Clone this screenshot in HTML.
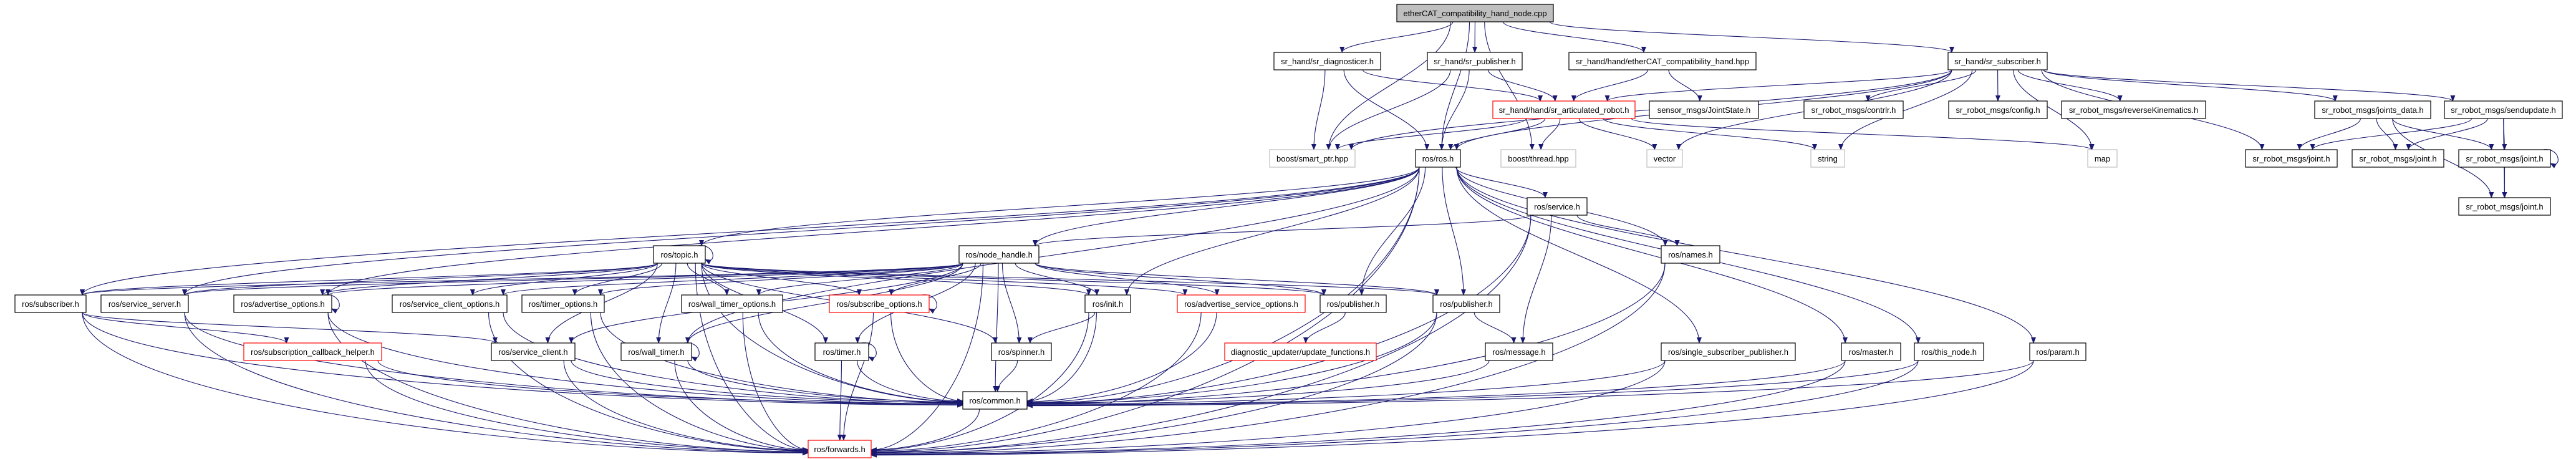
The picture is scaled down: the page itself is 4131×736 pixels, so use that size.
<!DOCTYPE html>
<html><head><meta charset="utf-8">
<style>
html,body{margin:0;padding:0;background:#fff;}
svg{display:block;}
text{font-family:"Liberation Sans",sans-serif;font-size:13px;fill:#000;}
</style></head>
<body>
<svg id="g" width="4131" height="736" viewBox="0 0 4131 736" xmlns="http://www.w3.org/2000/svg">
<defs>
<marker id="ar" viewBox="0 0 10 10" refX="9" refY="5" markerWidth="10" markerHeight="10" markerUnits="userSpaceOnUse" orient="auto">
<path d="M0,1 L10,5 L0,9 z" fill="#191970"/>
</marker>
</defs>
<g id="edges" fill="none" stroke="#191970" stroke-width="1.1"></g>
<g id="nodes">
<rect x="2240" y="7" width="251" height="28" fill="#bfbfbf" stroke="#000" stroke-width="1.2"/><text x="2365.5" y="26" text-anchor="middle">etherCAT_compatibility_hand_node.cpp</text>
<rect x="2043" y="84" width="171" height="28" fill="#fff" stroke="#000" stroke-width="1.2"/><text x="2128.5" y="103" text-anchor="middle">sr_hand/sr_diagnosticer.h</text>
<rect x="2289" y="84" width="152" height="28" fill="#fff" stroke="#000" stroke-width="1.2"/><text x="2365" y="103" text-anchor="middle">sr_hand/sr_publisher.h</text>
<rect x="2516" y="84" width="300" height="28" fill="#fff" stroke="#000" stroke-width="1.2"/><text x="2666" y="103" text-anchor="middle">sr_hand/hand/etherCAT_compatibility_hand.hpp</text>
<rect x="3124" y="84" width="159" height="28" fill="#fff" stroke="#000" stroke-width="1.2"/><text x="3203.5" y="103" text-anchor="middle">sr_hand/sr_subscriber.h</text>
<rect x="2394" y="162" width="228" height="28" fill="#fff" stroke="#f00" stroke-width="1.2"/><text x="2508" y="181" text-anchor="middle">sr_hand/hand/sr_articulated_robot.h</text>
<rect x="2645" y="162" width="175" height="28" fill="#fff" stroke="#000" stroke-width="1.2"/><text x="2732.5" y="181" text-anchor="middle">sensor_msgs/JointState.h</text>
<rect x="2893" y="162" width="159" height="28" fill="#fff" stroke="#000" stroke-width="1.2"/><text x="2972.5" y="181" text-anchor="middle">sr_robot_msgs/contrlr.h</text>
<rect x="3125" y="162" width="158" height="28" fill="#fff" stroke="#000" stroke-width="1.2"/><text x="3204" y="181" text-anchor="middle">sr_robot_msgs/config.h</text>
<rect x="3306" y="162" width="231" height="28" fill="#fff" stroke="#000" stroke-width="1.2"/><text x="3421.5" y="181" text-anchor="middle">sr_robot_msgs/reverseKinematics.h</text>
<rect x="3712" y="162" width="186" height="28" fill="#fff" stroke="#000" stroke-width="1.2"/><text x="3805" y="181" text-anchor="middle">sr_robot_msgs/joints_data.h</text>
<rect x="3920" y="162" width="189" height="28" fill="#fff" stroke="#000" stroke-width="1.2"/><text x="4014.5" y="181" text-anchor="middle">sr_robot_msgs/sendupdate.h</text>
<rect x="2036" y="240" width="137" height="28" fill="#fff" stroke="#bfbfbf" stroke-width="1.2"/><text x="2104.5" y="259" text-anchor="middle">boost/smart_ptr.hpp</text>
<rect x="2270" y="240" width="72" height="28" fill="#fff" stroke="#000" stroke-width="1.2"/><text x="2306" y="259" text-anchor="middle">ros/ros.h</text>
<rect x="2407" y="240" width="120" height="28" fill="#fff" stroke="#bfbfbf" stroke-width="1.2"/><text x="2467" y="259" text-anchor="middle">boost/thread.hpp</text>
<rect x="2641" y="240" width="57" height="28" fill="#fff" stroke="#bfbfbf" stroke-width="1.2"/><text x="2669.5" y="259" text-anchor="middle">vector</text>
<rect x="2904" y="240" width="54" height="28" fill="#fff" stroke="#bfbfbf" stroke-width="1.2"/><text x="2931" y="259" text-anchor="middle">string</text>
<rect x="3348" y="240" width="47" height="28" fill="#fff" stroke="#bfbfbf" stroke-width="1.2"/><text x="3371.5" y="259" text-anchor="middle">map</text>
<rect x="3601" y="240" width="147" height="28" fill="#fff" stroke="#000" stroke-width="1.2"/><text x="3674.5" y="259" text-anchor="middle">sr_robot_msgs/joint.h</text>
<rect x="3772" y="240" width="147" height="28" fill="#fff" stroke="#000" stroke-width="1.2"/><text x="3845.5" y="259" text-anchor="middle">sr_robot_msgs/joint.h</text>
<rect x="3943" y="240" width="147" height="28" fill="#fff" stroke="#000" stroke-width="1.2"/><text x="4016.5" y="259" text-anchor="middle">sr_robot_msgs/joint.h</text>
<rect x="3943" y="317" width="147" height="28" fill="#fff" stroke="#000" stroke-width="1.2"/><text x="4016.5" y="336" text-anchor="middle">sr_robot_msgs/joint.h</text>
<rect x="2449" y="317" width="96" height="28" fill="#fff" stroke="#000" stroke-width="1.2"/><text x="2497" y="336" text-anchor="middle">ros/service.h</text>
<rect x="1048" y="394" width="83" height="28" fill="#fff" stroke="#000" stroke-width="1.2"/><text x="1089.5" y="413" text-anchor="middle">ros/topic.h</text>
<rect x="1538" y="394" width="128" height="28" fill="#fff" stroke="#000" stroke-width="1.2"/><text x="1602" y="413" text-anchor="middle">ros/node_handle.h</text>
<rect x="2664" y="394" width="94" height="28" fill="#fff" stroke="#000" stroke-width="1.2"/><text x="2711" y="413" text-anchor="middle">ros/names.h</text>
<rect x="24" y="473" width="114" height="28" fill="#fff" stroke="#000" stroke-width="1.2"/><text x="81" y="492" text-anchor="middle">ros/subscriber.h</text>
<rect x="162" y="473" width="140" height="28" fill="#fff" stroke="#000" stroke-width="1.2"/><text x="232" y="492" text-anchor="middle">ros/service_server.h</text>
<rect x="375" y="473" width="157" height="28" fill="#fff" stroke="#000" stroke-width="1.2"/><text x="453.5" y="492" text-anchor="middle">ros/advertise_options.h</text>
<rect x="629" y="473" width="184" height="28" fill="#fff" stroke="#000" stroke-width="1.2"/><text x="721" y="492" text-anchor="middle">ros/service_client_options.h</text>
<rect x="837" y="473" width="132" height="28" fill="#fff" stroke="#000" stroke-width="1.2"/><text x="903" y="492" text-anchor="middle">ros/timer_options.h</text>
<rect x="1093" y="473" width="162" height="28" fill="#fff" stroke="#000" stroke-width="1.2"/><text x="1174" y="492" text-anchor="middle">ros/wall_timer_options.h</text>
<rect x="1330" y="473" width="160" height="28" fill="#fff" stroke="#f00" stroke-width="1.2"/><text x="1410" y="492" text-anchor="middle">ros/subscribe_options.h</text>
<rect x="1740" y="473" width="73" height="28" fill="#fff" stroke="#000" stroke-width="1.2"/><text x="1776.5" y="492" text-anchor="middle">ros/init.h</text>
<rect x="1888" y="473" width="205" height="28" fill="#fff" stroke="#f00" stroke-width="1.2"/><text x="1990.5" y="492" text-anchor="middle">ros/advertise_service_options.h</text>
<rect x="2117" y="473" width="106" height="28" fill="#fff" stroke="#000" stroke-width="1.2"/><text x="2170" y="492" text-anchor="middle">ros/publisher.h</text>
<rect x="2298" y="473" width="107" height="28" fill="#fff" stroke="#000" stroke-width="1.2"/><text x="2351.5" y="492" text-anchor="middle">ros/publisher.h</text>
<rect x="391" y="550" width="221" height="28" fill="#fff" stroke="#f00" stroke-width="1.2"/><text x="501.5" y="569" text-anchor="middle">ros/subscription_callback_helper.h</text>
<rect x="788" y="550" width="134" height="28" fill="#fff" stroke="#000" stroke-width="1.2"/><text x="855" y="569" text-anchor="middle">ros/service_client.h</text>
<rect x="996" y="550" width="113" height="28" fill="#fff" stroke="#000" stroke-width="1.2"/><text x="1052.5" y="569" text-anchor="middle">ros/wall_timer.h</text>
<rect x="1307" y="550" width="86" height="28" fill="#fff" stroke="#000" stroke-width="1.2"/><text x="1350" y="569" text-anchor="middle">ros/timer.h</text>
<rect x="1590" y="550" width="96" height="28" fill="#fff" stroke="#000" stroke-width="1.2"/><text x="1638" y="569" text-anchor="middle">ros/spinner.h</text>
<rect x="1964" y="550" width="243" height="28" fill="#fff" stroke="#f00" stroke-width="1.2"/><text x="2085.5" y="569" text-anchor="middle">diagnostic_updater/update_functions.h</text>
<rect x="2382" y="550" width="108" height="28" fill="#fff" stroke="#000" stroke-width="1.2"/><text x="2436" y="569" text-anchor="middle">ros/message.h</text>
<rect x="2664" y="550" width="215" height="28" fill="#fff" stroke="#000" stroke-width="1.2"/><text x="2771.5" y="569" text-anchor="middle">ros/single_subscriber_publisher.h</text>
<rect x="2953" y="550" width="95" height="28" fill="#fff" stroke="#000" stroke-width="1.2"/><text x="3000.5" y="569" text-anchor="middle">ros/master.h</text>
<rect x="3070" y="550" width="111" height="28" fill="#fff" stroke="#000" stroke-width="1.2"/><text x="3125.5" y="569" text-anchor="middle">ros/this_node.h</text>
<rect x="3255" y="550" width="90" height="28" fill="#fff" stroke="#000" stroke-width="1.2"/><text x="3300" y="569" text-anchor="middle">ros/param.h</text>
<rect x="1544" y="628" width="103" height="28" fill="#fff" stroke="#000" stroke-width="1.2"/><text x="1595.5" y="647" text-anchor="middle">ros/common.h</text>
<rect x="1296" y="706" width="101" height="28" fill="#fff" stroke="#f00" stroke-width="1.2"/><text x="1346.5" y="725" text-anchor="middle">ros/forwards.h</text>
</g>
</svg>
<script>
(function(){
var N={
cpp:[2240,7,2491,35],diag:[2043,84,2214,112],srpub:[2289,84,2441,112],ech:[2516,84,2816,112],srsub:[3124,84,3283,112],
art:[2394,162,2622,190],js:[2645,162,2820,190],ctl:[2893,162,3052,190],cfg:[3125,162,3283,190],rk:[3306,162,3537,190],jd:[3712,162,3898,190],su:[3920,162,4109,190],
sp:[2036,240,2173,268],ros:[2270,240,2342,268],th:[2407,240,2527,268],vec:[2641,240,2698,268],str:[2904,240,2958,268],map:[3348,240,3395,268],
j1:[3601,240,3748,268],j2:[3772,240,3919,268],j3:[3943,240,4090,268],j4:[3943,317,4090,345],svc:[2449,317,2545,345],
topic:[1048,394,1131,422],nh:[1538,394,1666,422],names:[2664,394,2758,422],
sub:[24,473,138,501],ss:[162,473,302,501],ao:[375,473,532,501],sco:[629,473,813,501],to:[837,473,969,501],wto:[1093,473,1255,501],so:[1330,473,1490,501],
init:[1740,473,1813,501],aso:[1888,473,2093,501],p1:[2117,473,2223,501],p2:[2298,473,2405,501],
sch:[391,550,612,578],sc:[788,550,922,578],wt:[996,550,1109,578],tm:[1307,550,1393,578],spin:[1590,550,1686,578],uf:[1964,550,2207,578],msg:[2382,550,2490,578],
ssp:[2664,550,2879,578],mas:[2953,550,3048,578],tn:[3070,550,3181,578],par:[3255,550,3345,578],
com:[1544,628,1647,656],fwd:[1296,706,1397,734]};
var E=[
['cpp','sp'],['cpp','ros'],['cpp','diag'],['cpp','srpub'],['cpp','th'],['cpp','ech'],['cpp','srsub'],
['diag','sp'],['diag','ros'],['diag','art'],['srpub','sp'],['srpub','ros'],['srpub','art'],
['ech','art'],['ech','js'],
['srsub','art'],['srsub','sp'],['srsub','ros'],['srsub','ctl'],['srsub','cfg'],['srsub','rk'],['srsub','jd'],['srsub','su'],['srsub','str'],['srsub','map'],['srsub','j1'],['srsub','vec'],
['art','sp'],['art','ros'],['art','th'],['art','vec'],['art','str'],['art','map'],
['jd','j1'],['jd','j2'],['jd','j3'],['jd','j4'],['su','j1'],['su','j2'],['su','j3'],['su','j4'],['j3','j4'],
['ros','sub'],['ros','ss'],['ros','topic'],['ros','nh'],['ros','init'],['ros','p1'],['ros','p2'],['ros','svc'],['ros','names'],['ros','ssp'],['ros','mas'],['ros','tn'],['ros','par'],['ros','com'],['ros','fwd'],['ros','wt'],['ros','ao'],
['svc','nh'],['svc','names'],['svc','msg'],['svc','com'],['svc','fwd'],
['names','com'],['names','fwd'],
['nh','sub'],['nh','ss'],['nh','ao'],['nh','sco'],['nh','to'],['nh','wto'],['nh','so'],['nh','sc'],['nh','wt'],['nh','tm'],['nh','init'],['nh','aso'],['nh','p1'],['nh','p2'],['nh','spin'],['nh','com'],['nh','fwd'],
['topic','sub'],['topic','ss'],['topic','ao'],['topic','sco'],['topic','to'],['topic','wto'],['topic','so'],['topic','wt'],['topic','tm'],['topic','sc'],['topic','init'],['topic','aso'],['topic','p1'],['topic','p2'],['topic','com'],['topic','spin'],['topic','fwd'],
['sub','sch'],['sub','com'],['sub','fwd'],['sub','sc'],['ss','com'],['ss','fwd'],['ao','com'],['ao','fwd'],['sco','com'],['sco','fwd'],['to','com'],['to','fwd'],['wto','com'],['wto','fwd'],['so','com'],['so','fwd'],
['sch','com'],['sch','fwd'],['sc','com'],['sc','fwd'],['wt','com'],['wt','fwd'],['tm','com'],['tm','fwd'],
['init','spin'],['init','com'],['init','fwd'],['aso','com'],['aso','fwd'],['p1','uf'],['p2','msg'],['p2','com'],['p2','fwd'],
['spin','com'],['msg','com'],['ssp','com'],['ssp','fwd'],['mas','com'],['mas','fwd'],['tn','com'],['tn','fwd'],['par','com'],['par','fwd'],['com','fwd']
];
var SELF=['topic','ao','so','wt','tm','j3'];
var g=document.getElementById('edges'),ns='http://www.w3.org/2000/svg';
function cl(v,a,b){return Math.max(a,Math.min(b,v));}
function add(d){var p=document.createElementNS(ns,'path');p.setAttribute('d',d);p.setAttribute('marker-end','url(#ar)');g.appendChild(p);}
E.forEach(function(e){
 var s=N[e[0]],t=N[e[1]];
 var scx=(s[0]+s[2])/2,tcx=(t[0]+t[2])/2;
 var d;
 var side=(e[1]==='com'||e[1]==='fwd')&&Math.abs(scx-tcx)>(t[2]-t[0]);
 if(side){
  var sx=cl(scx+(tcx-scx)*0.1,s[0]+6,s[2]-6),sy=s[3];
  var l=scx<tcx;
  var tx=l?t[0]:t[2],ty=cl((t[1]+t[3])/2+(l?-1:1)*((scx-tcx)/200),t[1]+4,t[3]-4);
  d='M'+sx+','+sy+' C'+sx+','+(sy+(ty-sy)*0.6)+' '+(tx+(sx-tx)*0.4)+','+ty+' '+tx+','+ty;
 } else if(t[1]>=s[3]-2){
  var sx=cl(scx+(tcx-scx)*0.15,s[0]+6,s[2]-6),sy=s[3];
  var tx=cl(tcx+(scx-tcx)*0.1,t[0]+6,t[2]-6),ty=t[1];
  var dy=ty-sy;
  d='M'+sx+','+sy+' C'+sx+','+(sy+dy*0.4)+' '+tx+','+(ty-dy*0.4)+' '+tx+','+ty;
 } else if(Math.abs(t[1]-s[1])<5){
  var l=tcx>scx;
  var sx=l?s[2]:s[0],tx=l?t[0]:t[2],y=(s[1]+s[3])/2;
  d='M'+sx+','+y+' L'+tx+','+y;
 } else {
  var sx=scx,sy=s[1],tx=tcx,ty=t[3];
  d='M'+sx+','+sy+' C'+sx+','+(sy-40)+' '+tx+','+(ty+40)+' '+tx+','+ty;
 }
 add(d);
});
SELF.forEach(function(k){var s=N[k];var x=s[2]-12,y1=s[1],y2=s[3];
 add('M'+x+','+y1+' C'+(s[2]+18)+','+(y1-4)+' '+(s[2]+18)+','+(y2+4)+' '+s[2]+','+(y2-6));});
})();
</script>
</body></html>
